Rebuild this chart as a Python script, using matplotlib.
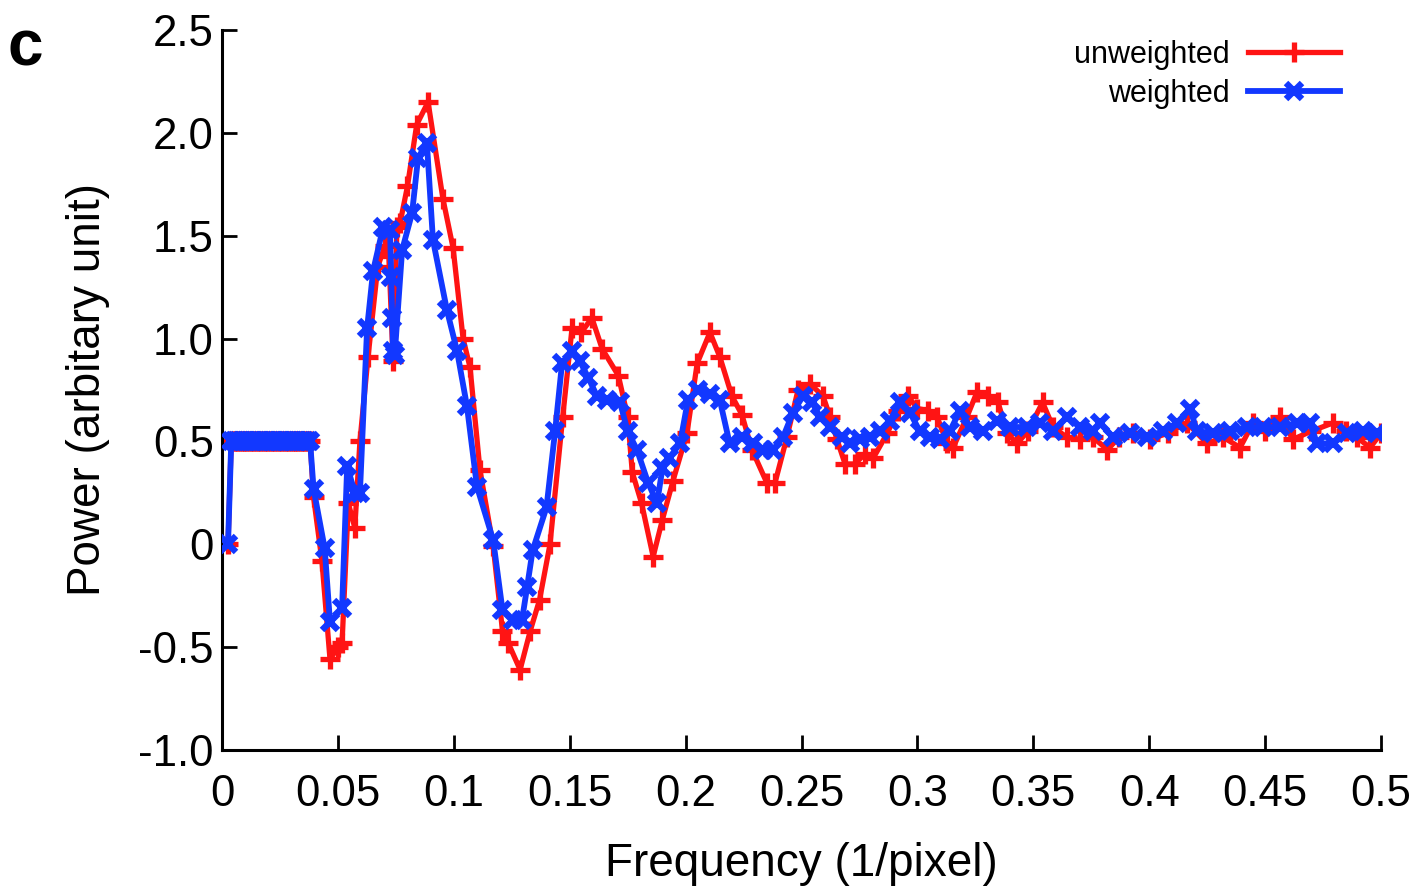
import matplotlib
matplotlib.use("Agg")
import matplotlib.pyplot as plt

# ---- data ----
plateau_f = [0.0040, 0.0050, 0.0060, 0.0070, 0.0080, 0.0090, 0.0100, 0.0110, 0.0120,
             0.0130, 0.0140, 0.0150, 0.0160, 0.0170, 0.0180, 0.0190, 0.0200, 0.0210,
             0.0220, 0.0230, 0.0240, 0.0250, 0.0260, 0.0270, 0.0280, 0.0290, 0.0300,
             0.0310, 0.0320, 0.0330, 0.0340, 0.0350, 0.0360, 0.0370, 0.0380]
plateau_v = [0.50, 0.50, 0.50, 0.50, 0.50, 0.50, 0.50, 0.50, 0.50,
             0.50, 0.50, 0.50, 0.50, 0.50, 0.50, 0.50, 0.50, 0.50,
             0.50, 0.50, 0.50, 0.50, 0.50, 0.50, 0.50, 0.50, 0.50,
             0.50, 0.50, 0.50, 0.50, 0.50, 0.50, 0.50, 0.50]

unw_freq_tail = [0.0395, 0.0431, 0.0466, 0.0500, 0.0518, 0.0545, 0.0573, 0.0595, 0.0630,
                 0.0672, 0.0703, 0.0720, 0.0738, 0.0755, 0.0768, 0.0800, 0.0840, 0.0889,
                 0.0953, 0.0997, 0.1040, 0.1070, 0.1113, 0.1170, 0.1210, 0.1235, 0.1286,
                 0.1330, 0.1370, 0.1415, 0.1470, 0.1510, 0.1550, 0.1596, 0.1640, 0.1710,
                 0.1750, 0.1770, 0.1810, 0.1860, 0.1900, 0.1946, 0.2006, 0.2050, 0.2105,
                 0.2148, 0.2200, 0.2243, 0.2286, 0.2350, 0.2386, 0.2437, 0.2485, 0.2537,
                 0.2593, 0.2623, 0.2653, 0.2688, 0.2730, 0.2774, 0.2810, 0.2870, 0.2916,
                 0.2960, 0.3000, 0.3046, 0.3085, 0.3128, 0.3154, 0.3214, 0.3257, 0.3305,
                 0.3348, 0.3387, 0.3430, 0.3477, 0.3540, 0.3585, 0.3645, 0.3700, 0.3757,
                 0.3820, 0.3870, 0.3930, 0.4003, 0.4080, 0.4163, 0.4250, 0.4320, 0.4392,
                 0.4448, 0.4500, 0.4564, 0.4620, 0.4700, 0.4793, 0.4850, 0.4896, 0.4953,
                 0.5000]
unw_power_tail = [0.23, -0.08, -0.56, -0.50, -0.48, 0.20, 0.08, 0.50, 0.91,
                  1.35, 1.45, 1.40, 0.89, 1.54, 1.56, 1.74, 2.04, 2.15,
                  1.68, 1.44, 1.00, 0.86, 0.36, -0.01, -0.42, -0.48, -0.61,
                  -0.42, -0.27, 0.00, 0.62, 1.05, 1.03, 1.10, 0.95, 0.82,
                  0.62, 0.35, 0.20, -0.06, 0.12, 0.31, 0.54, 0.88, 1.03,
                  0.91, 0.72, 0.63, 0.46, 0.30, 0.30, 0.52, 0.75, 0.78,
                  0.72, 0.62, 0.51, 0.39, 0.39, 0.44, 0.42, 0.54, 0.65,
                  0.72, 0.66, 0.65, 0.62, 0.49, 0.47, 0.62, 0.74, 0.72,
                  0.69, 0.54, 0.49, 0.55, 0.69, 0.57, 0.52, 0.51, 0.52,
                  0.46, 0.52, 0.54, 0.51, 0.54, 0.59, 0.49, 0.52, 0.47,
                  0.59, 0.55, 0.62, 0.51, 0.55, 0.59, 0.55, 0.52, 0.47,
                  0.54]

w_freq_tail = [0.0395, 0.0443, 0.0466, 0.0518, 0.0540, 0.0573, 0.0595, 0.0626, 0.0652,
               0.0695, 0.0725, 0.0730, 0.0734, 0.0738, 0.0745, 0.0777, 0.0820, 0.0846,
               0.0884, 0.0910, 0.0970, 0.1014, 0.1057, 0.1100, 0.1170, 0.1210, 0.1255,
               0.1294, 0.1316, 0.1340, 0.1400, 0.1437, 0.1467, 0.1510, 0.1544, 0.1580,
               0.1618, 0.1660, 0.1717, 0.1750, 0.1790, 0.1838, 0.1877, 0.1900, 0.1930,
               0.1976, 0.2010, 0.2054, 0.2105, 0.2148, 0.2190, 0.2243, 0.2290, 0.2334,
               0.2377, 0.2420, 0.2463, 0.2506, 0.2545, 0.2580, 0.2623, 0.2675, 0.2710,
               0.2752, 0.2795, 0.2840, 0.2880, 0.2925, 0.2968, 0.3010, 0.3054, 0.3097,
               0.3140, 0.3184, 0.3227, 0.3283, 0.3343, 0.3400, 0.3473, 0.3530, 0.3585,
               0.3645, 0.3700, 0.3757, 0.3788, 0.3844, 0.3917, 0.3990, 0.4060, 0.4120,
               0.4176, 0.4206, 0.4275, 0.4349, 0.4420, 0.4490, 0.4564, 0.4638, 0.4694,
               0.4724, 0.4793, 0.4853, 0.4922, 0.4983]
w_power_tail = [0.27, -0.02, -0.38, -0.31, 0.38, 0.25, 0.25, 1.05, 1.33,
                1.54, 1.53, 1.30, 1.10, 0.94, 0.92, 1.43, 1.61, 1.88,
                1.95, 1.48, 1.14, 0.94, 0.67, 0.28, 0.02, -0.32, -0.37,
                -0.37, -0.21, -0.03, 0.18, 0.55, 0.88, 0.94, 0.89, 0.81,
                0.72, 0.70, 0.69, 0.55, 0.46, 0.30, 0.20, 0.37, 0.42,
                0.49, 0.70, 0.75, 0.73, 0.70, 0.49, 0.52, 0.49, 0.46,
                0.46, 0.52, 0.64, 0.72, 0.69, 0.62, 0.57, 0.52, 0.49,
                0.51, 0.52, 0.55, 0.60, 0.69, 0.64, 0.55, 0.52, 0.51,
                0.55, 0.65, 0.57, 0.55, 0.60, 0.57, 0.57, 0.59, 0.55,
                0.62, 0.57, 0.55, 0.59, 0.52, 0.54, 0.52, 0.55, 0.59,
                0.66, 0.55, 0.54, 0.55, 0.57, 0.57, 0.57, 0.59, 0.59,
                0.49, 0.49, 0.54, 0.55, 0.54]

start_f = [0.0026]
start_v = [0.00]

unw_freq = start_f + plateau_f + unw_freq_tail
unw_power = start_v + plateau_v + unw_power_tail
w_freq = start_f + plateau_f + w_freq_tail
w_power = start_v + plateau_v + w_power_tail

x_ticks = [0, 0.05, 0.1, 0.15, 0.2, 0.25, 0.3, 0.35, 0.4, 0.45, 0.5]
x_labels = ["0", "0.05", "0.1", "0.15", "0.2", "0.25", "0.3", "0.35", "0.4", "0.45", "0.5"]
y_ticks = [-1.0, -0.5, 0, 0.5, 1.0, 1.5, 2.0, 2.5]
y_labels = ["-1.0", "-0.5", "0", "0.5", "1.0", "1.5", "2.0", "2.5"]

# ---- plot ----
plt.rcParams['font.family'] = ['Liberation Sans', 'DejaVu Sans']

fig = plt.figure(figsize=(14.22, 8.86), dpi=100)
ax = fig.add_axes([222/1422, 1 - 750/886, (1381-222)/1422, (750-30)/886])

red = '#ff1414'
blue = '#1238ff'
ax.plot(unw_freq, unw_power, color=red, lw=3.8, marker='+', markersize=14,
        markeredgewidth=3.8, label='unweighted', zorder=2)
ax.plot(w_freq, w_power, color=blue, lw=4.2, marker='x', markersize=11,
        markeredgewidth=4.6, label='weighted', zorder=3)

ax.set_xlim(0, 0.5)
ax.set_ylim(-1.0, 2.5)
ax.set_xticks(x_ticks)
ax.set_xticklabels(x_labels)
ax.set_yticks(y_ticks)
ax.set_yticklabels(y_labels)

for s in ['top', 'right']:
    ax.spines[s].set_visible(False)
for s in ['left', 'bottom']:
    ax.spines[s].set_linewidth(2.2)
    ax.spines[s].set_color('black')

ax.tick_params(axis='both', direction='in', length=11, width=2, labelsize=31.5,
               colors='black')
ax.tick_params(axis='x', pad=17)
ax.tick_params(axis='y', pad=6)

ax.set_xlabel('Frequency (1/pixel)', fontsize=33, labelpad=20)
ax.set_ylabel('Power (arbitary unit)', fontsize=33, labelpad=20)

leg = ax.legend(loc='upper right', bbox_to_anchor=(0.988, 1.025), frameon=False,
                fontsize=22, markerfirst=False, handlelength=3.0,
                labelspacing=0.3, handletextpad=0.6, numpoints=1)

fig.text(8/1422, 1 - 66/886, 'c', fontsize=46, fontweight='bold')

fig.savefig('out.png', dpi=100)
